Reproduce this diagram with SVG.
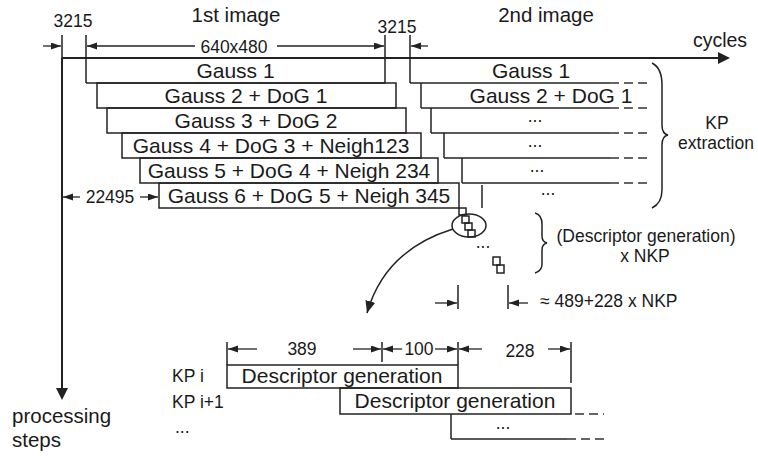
<svg xmlns="http://www.w3.org/2000/svg" width="758" height="459" viewBox="0 0 758 459">
<defs>
<marker id="ah" markerUnits="userSpaceOnUse" markerWidth="11" markerHeight="8" refX="10" refY="3.5" orient="auto"><path d="M0,0 L10,3.5 L0,7 z" fill="#222"/></marker>
<marker id="ahb" markerUnits="userSpaceOnUse" markerWidth="13" markerHeight="11" refX="12" refY="5" orient="auto"><path d="M0,0 L12,5 L0,10 z" fill="#222"/></marker>
<style>
text{font-family:"Liberation Sans",Arial,sans-serif;fill:#1a1a1a}
.big{font-size:21px;text-anchor:middle}
.hd{font-size:20.5px;text-anchor:middle}
.sm{font-size:17.5px}
.mid{text-anchor:middle}
.ln{stroke:#222;stroke-width:1.5;fill:none}
.box{stroke:#222;stroke-width:1.5;fill:none}
.ax{stroke:#222;stroke-width:2;fill:none}
.dim{stroke:#222;stroke-width:1.3;fill:none;marker-end:url(#ah)}
.dash{stroke:#333;stroke-width:1.5;fill:none;stroke-dasharray:9,5}
</style>
</defs>

<g id="headers">
<text class="hd" x="236" y="22">1st image</text>
<text class="hd" x="546" y="22">2nd image</text>
<text x="720" y="47" style="font-size:19.5px;text-anchor:middle">cycles</text>
<text class="sm mid" x="73" y="27">3215</text>
<text class="sm mid" x="397" y="33">3215</text>
<text class="sm mid" x="234" y="53">640x480</text>
<text class="sm mid" x="110" y="203">22495</text>
<text class="hd" x="62" y="423" style="text-anchor:start" transform="translate(-50,0)">processing</text>
<text class="hd" x="12" y="447" style="text-anchor:start">steps</text>
<text class="sm mid" x="717" y="129">KP</text>
<text class="sm mid" x="716" y="149">extraction</text>
<text class="sm mid" x="646" y="242">(Descriptor generation)</text>
<text class="sm mid" x="645" y="262">x NKP</text>
<text class="sm" x="540" y="307">≈ 489+228 x NKP</text>
<text class="sm mid" x="302" y="355">389</text>
<text class="sm mid" x="419" y="355">100</text>
<text class="sm mid" x="520" y="357">228</text>
<text class="sm" x="172" y="382">KP i</text>
<text class="sm" x="172" y="408">KP i+1</text>
<text class="sm" x="175" y="433">...</text>
</g>

<g id="axes">
<line class="ax" x1="62" y1="58" x2="720" y2="58"/>
<path d="M718,52 L730,58 L718,64 z" fill="#222"/>
<line class="ax" x1="62" y1="58" x2="62" y2="390"/>
<path d="M56,388 L62,400 L68,388 z" fill="#222"/>
</g>

<g id="img1">
<g id="g1"><line class="ln" x1="86" y1="35" x2="86" y2="83"/><line class="ln" x1="385" y1="35" x2="385" y2="83"/><line class="ln" x1="86" y1="83" x2="385" y2="83"/><text class="big" x="235.5" y="78">Gauss 1</text></g>
<g id="g2"><rect class="box" x="97" y="83" width="299" height="25"/><text class="big" x="246" y="103">Gauss 2 + DoG 1</text></g>
<g id="g3"><rect class="box" x="107" y="108" width="299" height="25"/><text class="big" x="256" y="128">Gauss 3 + DoG 2</text></g>
<g id="g4"><rect class="box" x="122" y="133" width="299" height="25"/><text class="big" x="271" y="153">Gauss 4 + DoG 3 + Neigh123</text></g>
<g id="g5"><rect class="box" x="140" y="158" width="298" height="25"/><text class="big" x="289" y="178">Gauss 5 + DoG 4 + Neigh 234</text></g>
<g id="g6"><rect class="box" x="159" y="183" width="300" height="25"/><text class="big" x="309" y="203">Gauss 6 + DoG 5 + Neigh 345</text></g>
</g>

<g id="img2">
<g id="h1"><line class="ln" x1="410" y1="35" x2="410" y2="83"/><line class="ln" x1="410" y1="83" x2="610" y2="83"/><line class="dash" x1="610" y1="83" x2="648" y2="83"/><text class="big" x="531" y="78">Gauss 1</text></g>
<g id="h2"><line class="ln" x1="421" y1="83" x2="421" y2="108"/><line class="ln" x1="421" y1="108" x2="610" y2="108"/><line class="dash" x1="610" y1="108" x2="648" y2="108"/><text class="big" x="551" y="103">Gauss 2 + DoG 1</text></g>
<g id="h3"><line class="ln" x1="431" y1="108" x2="431" y2="133"/><line class="ln" x1="431" y1="133" x2="610" y2="133"/><line class="dash" x1="610" y1="133" x2="648" y2="133"/><text class="sm mid" x="535" y="122">...</text></g>
<g id="h4"><line class="ln" x1="444" y1="133" x2="444" y2="158"/><line class="ln" x1="444" y1="158" x2="610" y2="158"/><line class="dash" x1="610" y1="158" x2="648" y2="158"/><text class="sm mid" x="535" y="147">...</text></g>
<g id="h5"><line class="ln" x1="462" y1="158" x2="462" y2="183"/><line class="ln" x1="462" y1="183" x2="610" y2="183"/><line class="dash" x1="610" y1="183" x2="648" y2="183"/><text class="sm mid" x="537" y="172">...</text></g>
<g id="h6"><line class="ln" x1="482" y1="185" x2="482" y2="208"/><text class="sm mid" x="548" y="195">...</text></g>
</g>

<g id="braces">
<path class="ln" d="M652,63 Q662,68 662,85 L662,125 Q662,134 668,135 Q662,136 662,145 L662,190 Q662,203 652,208"/>
<path class="ln" d="M535,213 Q542,215 542,224 L542,236 Q542,242 547,243 Q542,244 542,250 L542,264 Q542,271 535,273"/>
</g>

<g id="descriptors">
<rect class="box" x="459" y="208" width="7" height="7"/>
<rect class="box" x="462" y="216" width="7" height="7"/>
<rect class="box" x="465" y="223" width="7" height="7"/>
<rect class="box" x="468" y="230" width="7" height="7"/>
<ellipse class="ln" cx="469" cy="225.5" rx="17" ry="11.5"/>
<text class="sm mid" x="483" y="248">...</text>
<rect class="box" x="493" y="257" width="7" height="8"/>
<rect class="box" x="497" y="265" width="7" height="8"/>
</g>

<g id="bottom">
<g id="d1"><rect class="box" x="227" y="365" width="231" height="23"/><text class="big" x="342" y="383">Descriptor generation</text></g>
<g id="d2"><rect class="box" x="340" y="388" width="231" height="26"/><text class="big" x="455" y="408">Descriptor generation</text><line class="dash" x1="575" y1="414" x2="604" y2="414"/></g>
<g id="d3"><line class="ln" x1="451" y1="414" x2="451" y2="439"/><line class="ln" x1="451" y1="439" x2="567" y2="439"/><line class="dash" x1="567" y1="439" x2="604" y2="439"/><text class="sm mid" x="503" y="429">...</text></g>
</g>

<g id="connectors">
<line class="ln" x1="62" y1="35" x2="62" y2="58"/>
<line class="dim" x1="43" y1="46" x2="61" y2="46"/>
<line class="dim" x1="195" y1="46" x2="87" y2="46"/>
<line class="dim" x1="277" y1="46" x2="384" y2="46"/>
<line class="dim" x1="428" y1="46" x2="411" y2="46"/>
<line class="dim" x1="80" y1="197" x2="63" y2="197"/>
<line class="dim" x1="140" y1="197" x2="158" y2="197"/>
<path class="ln" d="M453,229 Q385,250 367,313" marker-end="url(#ahb)"/>
<line class="ln" x1="458" y1="285" x2="458" y2="309"/>
<line class="ln" x1="508" y1="285" x2="508" y2="309"/>
<line class="dim" x1="435" y1="303" x2="457" y2="303"/>
<line class="dim" x1="528" y1="303" x2="509" y2="303"/>
<line class="ln" x1="227" y1="342" x2="227" y2="365"/>
<line class="ln" x1="382" y1="342" x2="382" y2="362"/>
<line class="ln" x1="458" y1="342" x2="458" y2="365"/>
<line class="ln" x1="571" y1="342" x2="571" y2="383"/>
<line class="dim" x1="257" y1="349" x2="228" y2="349"/>
<line class="dim" x1="353" y1="349" x2="381" y2="349"/>
<line class="dim" x1="402" y1="349" x2="383" y2="349"/>
<line class="dim" x1="435" y1="349" x2="457" y2="349"/>
<line class="dim" x1="482" y1="349" x2="459" y2="349"/>
<line class="dim" x1="548" y1="349" x2="570" y2="349"/>
</g>
</svg>
